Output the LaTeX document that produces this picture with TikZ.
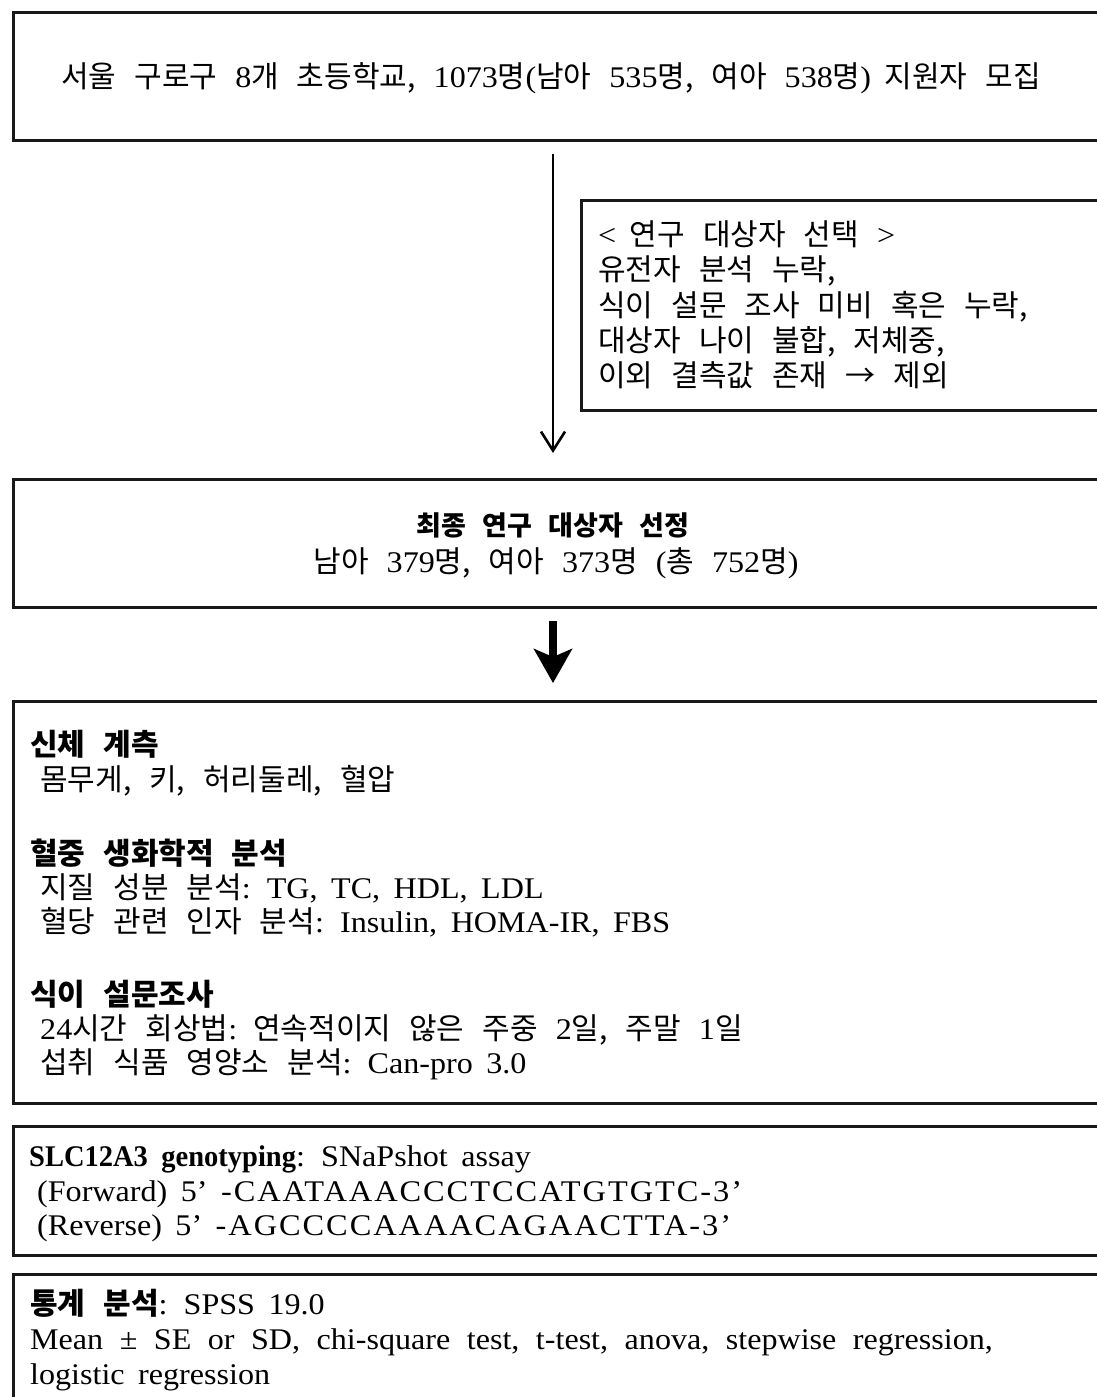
\documentclass[tikz,border=0pt]{standalone}
\usepackage{fontspec}
\setmainfont{Liberation Serif}[FakeStretch=1.07, BoldFeatures={FakeStretch=0.95}]
\newfontfamily\seqfont{Liberation Serif}[FakeStretch=1.08, LetterSpace=6.5]
\newfontfamily\krfamily{Noto Sans CJK KR}[Scale=1.0]
\usetikzlibrary{arrows.meta}
\XeTeXinterchartokenstate=1
\newXeTeXintercharclass\krclass
\newXeTeXintercharclass\punctclass
\count255="AC00
\loop \XeTeXcharclass\count255=\krclass \ifnum\count255<"D7A3 \advance\count255 by 1 \repeat
\XeTeXcharclass"2192=\krclass
\XeTeXcharclass`\,=\punctclass
\def\latinfam{\rmfamily}
\def\latsp{0.45em}
\XeTeXinterchartoks 0 \krclass = {\krfamily\spaceskip=0.6em\relax}
\XeTeXinterchartoks 4095 \krclass = {\krfamily\spaceskip=0.6em\relax}
\XeTeXinterchartoks \krclass 0 = {\latinfam\spaceskip=\latsp\relax}
\XeTeXinterchartoks 4095 0 = {\latinfam\spaceskip=\latsp\relax}
\newcommand\tfont{\fontsize{30}{35}\selectfont\spaceskip=18pt\relax}
\newcommand\hfont{\fontsize{27}{35}\selectfont\spaceskip=18pt\relax}
\newcommand\widesp{\def\latsp{0.55em}}
\newcommand\seqtext[1]{{\def\latinfam{\seqfont}\seqfont #1}}
\tikzset{
  box/.style={draw=black!90, line width=3pt, rectangle, inner sep=0pt, anchor=north west},
  txt/.style={anchor=base west, inner sep=0pt, font=\tfont},
  ctxt/.style={anchor=base, inner sep=0pt, font=\tfont},
  thinarrow/.style={line width=2.6pt, -{Straight Barb[length=19pt, width=24pt]}},
  boldarrow/.style={line width=8pt, -{Stealth[length=34pt, width=38pt, inset=8pt]}}
}
\begin{document}
\begin{tikzpicture}[x=1pt,y=-1pt]
\useasboundingbox (0,0) rectangle (1096,1397);
% boxes
\node[box, minimum width=1120, minimum height=128] (b1) at (11.5,11) {};
\node[box, minimum width=540, minimum height=210] (side) at (580,199) {};
\node[box, minimum width=1120, minimum height=127.5] (b2) at (11.5,478) {};
\node[box, minimum width=1120, minimum height=402.5] (b3) at (11.5,699.5) {};
\node[box, minimum width=1120, minimum height=129] (b4) at (11.5,1125) {};
\node[box, minimum width=1120, minimum height=200] (b5) at (11.5,1273) {};
\coordinate (mid) at (553,0);
% arrows
\draw[thinarrow] ([yshift=-12pt]b1.south -| mid) -- ([yshift=25pt]b2.north -| mid);
\draw[boldarrow] ([yshift=-12.5pt]b2.south -| mid) -- ([yshift=16.5pt]b3.north -| mid);
% box 1
\node[ctxt] (t1) at (551,87) {서울 구로구 8개 초등학교, 1073명(남아 535명, 여아 538명) 지원자 모집};
% side box
\node[txt] (s1) at (598,245) {< 연구 대상자 선택 >};
\node[txt] (s2) at (598,280.5) {유전자 분석 누락,};
\node[txt] (s3) at (598,316) {식이 설문 조사 미비 혹은 누락,};
\node[txt] (s4) at (598,351.5) {대상자 나이 불합, 저체중,};
\node[txt] (s5) at (598,386) {이외 결측값 존재 → 제외};
% box 2
\node[ctxt, font=\hfont] (t2a) at (553,535) {\bfseries 최종 연구 대상자 선정};
\node[ctxt] (t2b) at (556,572) {남아 379명, 여아 373명 (총 752명)};
% box 3
\node[txt] (h1) at (30,755) {\bfseries 신체 계측};
\node[txt] (l1) at (40,790) {몸무게, 키, 허리둘레, 혈압};
\node[txt] (h2) at (30,864) {\bfseries 혈중 생화학적 분석};
\node[txt] (l2) at (40,898) {지질 성분 분석: TG, TC, HDL, LDL};
\node[txt] (l3) at (40,932) {혈당 관련 인자 분석: Insulin, HOMA-IR, FBS};
\node[txt] (h3) at (30,1005) {\bfseries 식이 설문조사};
\node[txt] (l4) at (40,1039) {24시간 회상법: 연속적이지 않은 주중 2일, 주말 1일};
\node[txt] (l5) at (40,1073) {섭취 식품 영양소 분석: Can-pro 3.0};
% box 4
\node[txt] (g1) at (29,1166) {\textbf{SLC12A3 genotyping}: SNaPshot assay};
\node[txt] (g2) at (37,1201) {(Forward) 5’ \seqtext{-CAATAAACCCTCCATGTGTC-3’}};
\node[txt] (g3) at (37,1235) {(Reverse) 5’ \seqtext{-AGCCCCAAAACAGAACTTA-3’}};
% box 5
\node[txt] (p1) at (30,1314) {\textbf{통계 분석}: SPSS 19.0};
\node[txt] (p2) at (30,1349) {\widesp Mean ± SE or SD, chi-square test, t-test, anova, stepwise regression,};
\node[txt] (p3) at (30,1384) {logistic regression};
\end{tikzpicture}
\end{document}
